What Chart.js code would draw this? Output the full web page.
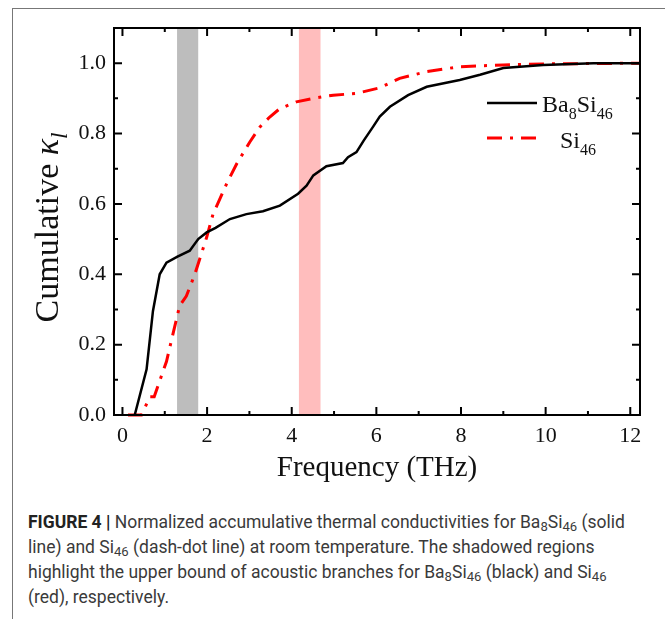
<!DOCTYPE html>
<html>
<head>
<meta charset="utf-8">
<script src="https://cdn.jsdelivr.net/npm/chart.js@4.4.1/dist/chart.umd.min.js"></script>
<style>
  html, body { margin: 0; padding: 0; background: #fff; }
  body { width: 665px; height: 619px; position: relative; overflow: hidden; }
  #frame { position: absolute; left: 12px; top: 8px; right: -2px; bottom: -2px;
           border-left: 1px solid #777; border-top: 1px solid #777; }
  #wrap { position: absolute; left: 0; top: 0; width: 665px; height: 490px; }
  #caption { position: absolute; left: 28px; top: 510px; width: 630px;
             font-family: Roboto, "Liberation Sans", sans-serif; font-size: 17.5px;
             line-height: 25px; color: #3a3a3a; font-weight: 400; }
  #caption b { font-weight: 700; color: #222; }
  #caption sub { font-size: 0.75em; vertical-align: -0.25em; line-height: 0; }
</style>
</head>
<body>
<div id="frame"></div>
<div id="wrap"><canvas id="kappaChart" width="665" height="490"></canvas></div>
<div id="caption">
  <b>FIGURE 4 |</b> Normalized accumulative thermal conductivities for Ba<sub>8</sub>Si<sub>46</sub> (solid<br>
  line) and Si<sub>46</sub> (dash-dot line) at room temperature. The shadowed regions<br>
  highlight the upper bound of acoustic branches for Ba<sub>8</sub>Si<sub>46</sub> (black) and Si<sub>46</sub><br>
  (red), respectively.
</div>
<script>
// 频率 (THz) 与累积热导 —— Ba8Si46 (实线)
const freqBa = [0.29, 0.57, 0.72, 0.88, 1.04, 1.3, 1.59, 1.79, 1.99, 2.2, 2.54, 2.93, 3.32, 3.72,
  4.15, 4.35, 4.51, 4.82, 5.21, 5.33, 5.53, 5.7, 5.92, 6.08, 6.32, 6.75, 7.19, 7.97, 8.45, 9.0,
  9.94, 11.13, 12.23];
const kappaBa = [0, 0.13, 0.295, 0.40, 0.433, 0.45, 0.467, 0.50, 0.519, 0.532, 0.557, 0.571, 0.579,
  0.595, 0.629, 0.652, 0.681, 0.707, 0.716, 0.733, 0.747, 0.78, 0.819, 0.848, 0.876, 0.909, 0.933,
  0.952, 0.967, 0.986, 0.995, 1.0, 1.0];

// Si46 (点划线)
const freqSi = [0.13, 0.45, 0.65, 0.75, 1.04, 1.35, 1.51, 1.71, 1.99, 2.14, 2.46, 2.70, 3.01, 3.25,
  3.48, 3.72, 4.11, 4.51, 4.98, 5.53, 6.08, 6.55, 7.19, 7.97, 9.0, 9.94, 12.23];
const kappaSi = [0, 0, 0.052, 0.052, 0.152, 0.31, 0.338, 0.40, 0.505, 0.571, 0.657, 0.714, 0.776,
  0.819, 0.847, 0.871, 0.890, 0.90, 0.909, 0.914, 0.93, 0.957, 0.976, 0.99, 0.995, 0.998, 1.0];

// 声学支上界阴影区 (THz)
const bandFrom = [1.29, 4.17];
const bandTo = [1.79, 4.68];
const bandColors = ["#bdbdbd", "#ffbdbd"];

// 坐标轴范围和刻度
const xMin = -0.2, xMax = 12.23, xStep = 2, xMinorStep = 1;
const yMin = 0, yMax = 1.1, yStep = 0.2, yMinorStep = 0.1;

const SERIF = '"Liberation Serif", "DejaVu Serif", serif';

/** 带下标的文字: parts = [[text, "n" | "sub" | "i" | "isub"], ...] */
function richWidth(ctx, parts, size) {
  let w = 0;
  parts.forEach(([t, k]) => {
    ctx.font = fontFor(k, size);
    w += ctx.measureText(t).width;
  });
  return w;
}
function fontFor(kind, size) {
  const sub = kind === "sub" || kind === "isub";
  const ital = kind === "i" || kind === "isub";
  return (ital ? "italic " : "") + Math.round(sub ? size * 0.68 : size) + "px " + SERIF;
}
function drawRich(ctx, parts, x, y, size) {
  ctx.textBaseline = "alphabetic";
  ctx.textAlign = "left";
  parts.forEach(([t, k]) => {
    ctx.font = fontFor(k, size);
    const dy = (k === "sub" || k === "isub") ? size * 0.28 : 0;
    ctx.fillText(t, x, y + dy);
    x += ctx.measureText(t).width;
  });
}

// 阴影、内向刻度、y 轴标题和图例
const extrasPlugin = {
  id: "extras",
  beforeDatasetsDraw(chart) {
    const { ctx, chartArea: a, scales: { x } } = chart;
    ctx.save();
    bandFrom.forEach((f, i) => {
      const x0 = x.getPixelForValue(f), x1 = x.getPixelForValue(bandTo[i]);
      ctx.fillStyle = bandColors[i];
      ctx.fillRect(x0, a.top, x1 - x0, a.bottom - a.top);
    });
    ctx.restore();
  },
  afterDraw(chart) {
    const { ctx, chartArea: a, scales: { x, y } } = chart;
    ctx.save();
    ctx.strokeStyle = "#000";
    ctx.lineWidth = 2;
    // 外框
    ctx.strokeRect(a.left, a.top, a.right - a.left, a.bottom - a.top);
    // x 刻度 (上下)
    for (let v = 0; v <= xMax + 1e-9; v += xMinorStep) {
      const px = x.getPixelForValue(v);
      const len = Math.abs(v % xStep) < 1e-9 ? 8 : 4;
      ctx.beginPath();
      ctx.moveTo(px, a.bottom); ctx.lineTo(px, a.bottom - len);
      ctx.moveTo(px, a.top); ctx.lineTo(px, a.top + len);
      ctx.stroke();
    }
    // y 刻度 (左右)
    for (let i = 0; i * yMinorStep <= yMax + 1e-9; i++) {
      const v = i * yMinorStep;
      const py = y.getPixelForValue(v);
      const len = i % 2 === 0 ? 8 : 4;
      ctx.beginPath();
      ctx.moveTo(a.left, py); ctx.lineTo(a.left + len, py);
      ctx.moveTo(a.right, py); ctx.lineTo(a.right - len, py);
      ctx.stroke();
    }

    // y 轴标题 (旋转)
    ctx.fillStyle = "#111";
    const yTitle = [["Cumulative ", "n"], ["\u03BA", "i"], ["l", "isub"]];
    const ySize = 33.5;
    const w = richWidth(ctx, yTitle, ySize);
    ctx.save();
    ctx.translate(58, (a.top + a.bottom) / 2 + 6);
    ctx.rotate(-Math.PI / 2);
    drawRich(ctx, yTitle, -w / 2, 0, ySize);
    ctx.restore();

    // 图例
    const lx0 = a.right - 153, lx1 = a.right - 103;
    ctx.lineWidth = 2.5;
    ctx.strokeStyle = "#000";
    ctx.beginPath(); ctx.moveTo(lx0, a.top + 75); ctx.lineTo(lx1, a.top + 75); ctx.stroke();
    ctx.strokeStyle = "#ff0000";
    ctx.lineWidth = 3;
    ctx.setLineDash([15, 8, 3, 8]);
    ctx.beginPath(); ctx.moveTo(lx0, a.top + 110); ctx.lineTo(lx1 + 1, a.top + 110); ctx.stroke();
    ctx.setLineDash([]);
    drawRich(ctx, [["Ba", "n"], ["8", "sub"], ["Si", "n"], ["46", "sub"]], lx1 + 5, a.top + 84, 24);
    drawRich(ctx, [["Si", "n"], ["46", "sub"]], lx1 + 23, a.top + 120, 24);
    ctx.restore();
  }
};

function renderChart() {
  const ctx = document.getElementById("kappaChart").getContext("2d");
  new Chart(ctx, {
    type: "line",
    data: {
      datasets: [
        {
          label: "Ba8Si46",
          data: freqBa.map((f, i) => ({ x: f, y: kappaBa[i] })),
          borderColor: "#000",
          borderWidth: 2.5,
          pointRadius: 0,
          tension: 0,
          clip: 4
        },
        {
          label: "Si46",
          data: freqSi.map((f, i) => ({ x: f, y: kappaSi[i] })),
          borderColor: "#ff0000",
          borderWidth: 3,
          borderDash: [15, 8, 3, 8],
          pointRadius: 0,
          tension: 0,
          clip: 4
        }
      ]
    },
    options: {
      responsive: false,
      animation: false,
      layout: { padding: { left: 0, top: 28, right: 25, bottom: 4 } },
      plugins: { legend: { display: false }, tooltip: { enabled: false } },
      scales: {
        x: {
          type: "linear",
          min: xMin,
          max: xMax,
          grid: { display: false, drawTicks: false },
          border: { display: false },
          ticks: {
            stepSize: xStep,
            includeBounds: false,
            padding: 8,
            color: "#111",
            font: { family: SERIF, size: 22 }
          },
          title: {
            display: true,
            text: "Frequency (THz)",
            color: "#111",
            font: { family: SERIF, size: 29 },
            padding: { top: 2, bottom: 0 }
          },
          afterFit(scale) { scale.height = 71; }
        },
        y: {
          min: yMin,
          max: yMax,
          grid: { display: false, drawTicks: false },
          border: { display: false },
          ticks: {
            stepSize: yStep,
            includeBounds: false,
            padding: 8,
            color: "#111",
            font: { family: SERIF, size: 22 },
            callback: (v) => v.toFixed(1)
          },
          afterFit(scale) { scale.width = 114; }
        }
      }
    },
    plugins: [extrasPlugin]
  });
}

renderChart();
</script>
</body>
</html>
